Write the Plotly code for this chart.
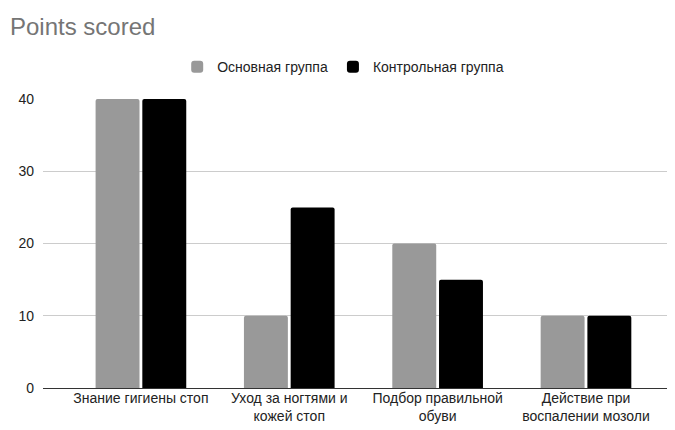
import plotly.graph_objects as go

categories = ["Знание гигиены стоп", "Уход за ногтями и<br>кожей стоп",
              "Подбор правильной<br>обуви", "Действие при<br>воспалении мозоли"]
main_group = [40, 10, 20, 10]
control_group = [40, 25, 15, 10]
y_ticks = [0, 10, 20, 30, 40]

font = "Liberation Sans, Arial, sans-serif"

fig = go.Figure()
fig.add_trace(go.Bar(x=categories, y=main_group, name="Основная группа",
                     marker=dict(color="#999999", cornerradius=2, line=dict(width=0))))
fig.add_trace(go.Bar(x=categories, y=control_group, name="Контрольная группа",
                     marker=dict(color="#000000", cornerradius=2, line=dict(width=0))))

fig.update_layout(
    width=675, height=430,
    margin=dict(l=35, r=8, t=91, b=50, autoexpand=False),
    paper_bgcolor="white", plot_bgcolor="white",
    barmode="group", bargap=0.37, bargroupgap=0.06,
    font=dict(family=font, size=14, color="#222222"),
    title=dict(text="Points scored", x=2/675, xref="container", xanchor="left",
               y=1-19/430, yref="container", yanchor="middle",
               font=dict(family=font, size=24, color="#757575")),
    legend=dict(orientation="h", x=0.475, xanchor="center", y=1.11, yanchor="middle",
                font=dict(size=14, color="#222222"), itemwidth=30,
                traceorder="normal"),
    xaxis=dict(range=[-0.66, 3.60], showgrid=False, showline=False, ticks="",
               tickfont=dict(size=14, color="#222222"), fixedrange=True,
               automargin=False),
    yaxis=dict(range=[0, 40], tickvals=y_ticks, showgrid=True, gridcolor="#cccccc",
               gridwidth=1, zeroline=True, zerolinecolor="#333333", zerolinewidth=1,
               tickfont=dict(size=14, color="#222222"), ticks="", ticklabelstandoff=8,
               automargin=False),
)

fig.write_html("out.html")
